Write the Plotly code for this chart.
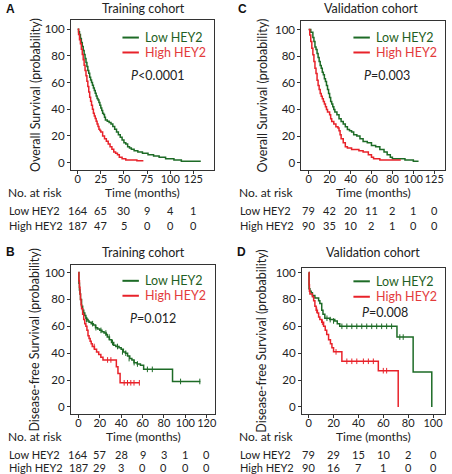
import plotly.graph_objects as go

W, H = 452, 474

# ---------------- data ----------------
# Panel A: Overall survival, training cohort
A_low_t = [0, 1, 2, 3, 4, 5, 6, 7, 8, 9, 10, 11, 12, 13, 14, 15, 16, 17, 18, 19, 20, 21, 22, 23, 24, 25, 26, 27, 28, 29, 30,
           32, 34, 36, 38, 40, 42, 44, 46, 48, 50, 52, 54, 56, 58, 61, 65, 70, 76, 82, 88, 95, 104, 112, 133]
A_low_s = [100, 98, 96, 93, 90, 87, 84, 81, 78, 75, 72, 69, 67, 64, 62, 60, 58, 56, 54, 52, 50, 48, 47, 45, 43, 41, 39, 37, 36, 34, 32,
           31, 30, 29, 27, 25, 23, 21, 19, 17, 15, 14, 12, 11, 10, 9, 8, 7, 6, 5, 4, 3, 2, 1, 1]
A_high_t = [0, 1, 2, 3, 4, 5, 6, 7, 8, 9, 10, 11, 12, 13, 14, 15, 16, 17, 18, 19, 20, 21, 22, 23, 24, 25, 27, 29, 31, 33, 35,
            37, 39, 41, 43, 45, 48, 52, 64, 71]
A_high_s = [100, 96, 92, 89, 85, 81, 77, 73, 69, 65, 61, 57, 53, 49, 46, 43, 40, 37, 35, 33, 31, 29, 27, 25, 24, 23, 20, 18, 16, 14, 12,
            10, 8, 7, 6, 4, 3, 2, 1.5, 1.5]

# Panel C: Overall survival, validation cohort
C_low_t = [0, 2, 4, 5, 6, 7, 8, 9, 10, 11, 12, 13, 14, 15, 16, 17, 18, 19, 20, 21, 22, 23, 24, 25, 27, 29, 31, 33, 35, 37,
           39, 41, 43, 46, 49, 52, 56, 60, 64, 68, 72, 75, 78, 80, 92, 100, 105]
C_low_s = [100, 98, 94, 91, 87, 85, 82, 79, 76, 73, 71, 68, 66, 63, 61, 58, 55, 52, 49, 46, 44, 42, 40, 38, 36, 33, 31, 29, 27, 25,
           24, 23, 21, 20, 18, 16, 15, 13, 12, 10, 8, 6, 4, 3, 2, 1, 1]
C_high_t = [0, 1, 2, 3, 4, 5, 6, 7, 8, 9, 10, 11, 12, 13, 14, 15, 16, 17, 18, 20, 21, 22, 24, 26, 28, 29, 30, 31, 33, 35,
            37, 41, 48, 52, 57, 60, 62, 68, 88]
C_high_s = [100, 96, 91, 86, 81, 76, 71, 67, 62, 58, 55, 52, 50, 48, 46, 44, 42, 40, 38, 36, 33, 31, 29, 27, 26, 24, 21, 18, 15, 12,
            11, 10, 9, 8, 6, 4, 3, 2, 2]

# Panel B: Disease-free survival, training cohort
B_low_t = [0, 0.5, 1, 1.5, 2, 3, 4, 5, 6, 7, 8, 9, 10, 12, 14, 16, 18, 20, 22, 24, 26, 27, 29, 31, 33, 35, 38, 40, 42, 44,
           46, 48, 50, 52, 55, 58, 61, 88, 114]
B_low_s = [100, 92, 87, 84, 80, 75, 72, 70, 68, 66, 65, 64, 63, 62, 61, 59, 58, 57, 56, 55, 54, 52, 50, 48, 46, 45, 44, 43, 41, 40,
           38, 36, 35, 33, 32, 31, 28, 19, 19]
B_high_t = [0, 0.5, 1, 1.5, 2, 2.5, 3, 4, 5, 6, 7, 8, 9, 10, 11, 12, 13, 15, 17, 19, 21, 23, 35.5, 37, 39, 57]
B_high_s = [100, 94, 89, 84, 80, 76, 73, 69, 65, 62, 60, 57, 53, 51, 49, 47, 45, 43, 41, 39, 37, 35, 30, 25, 18, 18]
B_low_cens_t = [7.7, 13.3, 16.4, 21.1, 25.7, 28.8, 31.9, 36.6, 41.2, 44.3, 47.4, 52.1, 55.2, 64.5, 69.1, 95.5, 113.5]
B_low_cens_s = [65, 62, 59, 57, 55, 52, 48, 45, 41, 40, 36, 33, 32, 28, 28, 19, 19]
B_high_cens_t = [14.8, 27.3, 30.4, 42.8, 45.9, 49.0, 52.0, 57.0]
B_high_cens_s = [45, 35, 35, 18, 18, 18, 18, 18]

# Panel D: Disease-free survival, validation cohort
D_low_t = [0, 0.3, 1, 2, 3, 5, 8, 9, 10.5, 11.5, 13, 17, 21, 23, 25, 71, 84, 99]
D_low_s = [100, 88, 86, 85, 83, 81, 79, 77, 72, 69, 66, 65, 64, 62, 60, 52, 26, 0]
D_high_t = [0, 0.3, 0.6, 1, 3, 4, 5, 6, 7, 8, 9, 10.5, 12, 13.3, 14.5, 16, 17.5, 18.7, 20, 26.7, 56, 72]
D_high_s = [100, 91, 86, 84, 82, 79, 75, 72, 70, 67, 65, 63, 60, 57, 54, 50, 47, 44, 41, 34, 27, 0]
D_low_cens_t = [14.7, 17.3, 20.0, 26.7, 30.7, 34.7, 38.7, 42.7, 46.7, 50.7, 54.7, 58.7, 62.7, 66.7, 73.3, 76.0]
D_low_cens_s = [66, 65, 64, 60, 60, 60, 60, 60, 60, 60, 60, 60, 60, 60, 52, 52]
D_high_cens_t = [6.5, 11.0, 22.0, 30.7, 34.7, 38.7, 44.0, 48.0, 52.0, 60.0, 62.7]
D_high_cens_s = [72, 63, 41, 34, 34, 34, 34, 34, 34, 27, 27]

# number-at-risk tables
A_risk_t = [0, 25, 50, 75, 100, 125]
A_risk_low = [164, 65, 30, 9, 4, 1]
A_risk_high = [187, 47, 5, 0, 0, 0]
C_risk_t = [0, 20, 40, 60, 80, 100, 120]
C_risk_low = [79, 42, 20, 11, 2, 1, 0]
C_risk_high = [90, 35, 10, 2, 1, 0, 0]
B_risk_t = [0, 20, 40, 60, 80, 100, 120]
B_risk_low = [164, 57, 28, 9, 3, 1, 0]
B_risk_high = [187, 29, 3, 0, 0, 0, 0]
D_risk_t = [0, 20, 40, 60, 80, 100]
D_risk_low = [79, 29, 15, 10, 2, 0]
D_risk_high = [90, 16, 7, 1, 0, 0]

# tick labels
A_xticks = [0, 25, 50, 75, 100, 125]
A_xtext = ["0", "25", "50", "75", "100", "125"]
C_xticks = [0, 20, 40, 60, 80, 100, 120]
C_xtext = ["0", "20", "40", "60", "80", "100", "125"]
B_xticks = [0, 20, 40, 60, 80, 100, 120]
B_xtext = ["0", "20", "40", "60", "80", "100", "120"]
D_xticks = [0, 20, 40, 60, 80, 100]
D_xtext = ["0", "20", "40", "60", "80", "100"]
Y_ticks = [0, 20, 40, 60, 80, 100]

panel_letters = ["A", "C", "B", "D"]
panel_titles = ["Training cohort", "Validation cohort", "Training cohort", "Validation cohort"]
y_titles = ["Overall Survival (probability)", "Overall Survival (probability)",
            "Disease-free Survival (probability)", "Disease-free Survival (probability)"]
p_texts = ["<i>P</i>&lt;0.0001", "<i>P</i>=0.003", "<i>P</i>=0.012", "<i>P</i>=0.008"]
group_names = ["Low HEY2", "High HEY2"]

# ---------------- style ----------------
GREEN = "#1d6b26"
RED = "#e8222a"
GREEN_TXT = "#1f5f24"
RED_TXT = "#e33b3b"
FONT = "Lato"
AX = "#333333"
TXT = "#222222"


def X(px):
    return px / W


def Y(py):
    return 1 - py / H


# layout per panel (pixel geometry)
panels = [
    dict(ax="", dom_x=(71.3, 214.7), dom_y=(18, 169), xr=[-7.2, 147], yr=[-5.7, 106.9],
         lowt=A_low_t, lows=A_low_s, hight=A_high_t, highs=A_high_s, cens=None,
         rt=A_risk_t, rl=A_risk_low, rh=A_risk_high, xt=A_xticks, xtt=A_xtext,
         letter=(11, 7), title=(144, 7), ytitle_x=35, tm_y=191.7, row_y=(209.3, 224.3),
         leg=(123, 35.7, 50.7), p=(158, 74), nar_x=6),
    dict(ax="2", dom_x=(302.7, 446.7), dom_y=(19, 169), xr=[-7, 130], yr=[-5.7, 106.5],
         lowt=C_low_t, lows=C_low_s, hight=C_high_t, highs=C_high_s, cens=None,
         rt=C_risk_t, rl=C_risk_low, rh=C_risk_high, xt=C_xticks, xtt=C_xtext,
         letter=(244, 7), title=(373, 7), ytitle_x=264, tm_y=191.7, row_y=(209.3, 224.3),
         leg=(355, 35.7, 50.7), p=(389, 74), nar_x=238),
    dict(ax="3", dom_x=(71.3, 216.3), dom_y=(264.3, 414), xr=[-6.9, 128], yr=[-5.4, 105.5],
         lowt=B_low_t, lows=B_low_s, hight=B_high_t, highs=B_high_s,
         cens=(B_low_cens_t, B_low_cens_s, B_high_cens_t, B_high_cens_s),
         rt=B_risk_t, rl=B_risk_low, rh=B_risk_high, xt=B_xticks, xtt=B_xtext,
         letter=(11, 251), title=(144, 251.7), ytitle_x=35, tm_y=436.5, row_y=(454, 467.5),
         leg=(123, 280, 295), p=(154, 318), nar_x=6),
    dict(ax="4", dom_x=(303.3, 446.7), dom_y=(266.7, 414), xr=[-5.4, 109.4], yr=[-5.4, 103.7],
         lowt=D_low_t, lows=D_low_s, hight=D_high_t, highs=D_high_s,
         cens=(D_low_cens_t, D_low_cens_s, D_high_cens_t, D_high_cens_s),
         rt=D_risk_t, rl=D_risk_low, rh=D_risk_high, xt=D_xticks, xtt=D_xtext,
         letter=(243, 251), title=(375, 251.7), ytitle_x=263, tm_y=436.5, row_y=(454, 467.5),
         leg=(355, 280.5, 296), p=(387, 312), nar_x=238),
]

fig = go.Figure()
annotations = []
shapes = []
layout_axes = {}

for i, pn in enumerate(panels):
    xa = "x" + pn["ax"]
    ya = "y" + pn["ax"]
    fig.add_trace(go.Scatter(x=pn["lowt"], y=pn["lows"], mode="lines", xaxis=xa, yaxis=ya,
                             line=dict(shape="hv", color=GREEN, width=1.5), showlegend=False))
    fig.add_trace(go.Scatter(x=pn["hight"], y=pn["highs"], mode="lines", xaxis=xa, yaxis=ya,
                             line=dict(shape="hv", color=RED, width=1.5), showlegend=False))
    if pn["cens"]:
        lt, ls, ht, hs = pn["cens"]
        fig.add_trace(go.Scatter(x=lt, y=ls, mode="markers", xaxis=xa, yaxis=ya, showlegend=False,
                                 marker=dict(symbol="line-ns-open", size=4, color=GREEN,
                                             line=dict(width=1, color=GREEN))))
        fig.add_trace(go.Scatter(x=ht, y=hs, mode="markers", xaxis=xa, yaxis=ya, showlegend=False,
                                 marker=dict(symbol="line-ns-open", size=4, color=RED,
                                             line=dict(width=1, color=RED))))

    common = dict(showline=True, mirror=True, linecolor=AX, linewidth=1, ticks="outside", ticklen=3,
                  tickcolor=AX, showgrid=False, zeroline=False, tickangle=0)
    layout_axes["xaxis" + pn["ax"]] = dict(common, domain=[X(pn["dom_x"][0]), X(pn["dom_x"][1])],
                                           range=pn["xr"], tickvals=pn["xt"], ticktext=pn["xtt"],
                                           anchor=ya, ticklabelstandoff=-4,
                                           tickfont=dict(family=FONT, size=11, color=TXT))
    layout_axes["yaxis" + pn["ax"]] = dict(common, domain=[Y(pn["dom_y"][1]), Y(pn["dom_y"][0])],
                                           range=pn["yr"], tickvals=Y_ticks, anchor=xa,
                                           tickfont=dict(family=FONT, size=11.5, color=TXT))

    cx = (pn["dom_x"][0] + pn["dom_x"][1]) / 2
    cy = (pn["dom_y"][0] + pn["dom_y"][1]) / 2
    base = dict(xref="paper", yref="paper", showarrow=False)
    # letter
    annotations.append(dict(base, x=X(pn["letter"][0]), y=Y(pn["letter"][1]), text="<b>%s</b>" % panel_letters[i],
                            font=dict(family="Liberation Sans", size=12, color="#111"), xanchor="center", yanchor="middle"))
    # title
    annotations.append(dict(base, x=X(pn["title"][0]), y=Y(pn["title"][1]), text=panel_titles[i],
                            font=dict(family=FONT, size=12.5, color=TXT), xanchor="center", yanchor="middle"))
    # y title
    annotations.append(dict(base, x=X(pn["ytitle_x"]), y=Y(cy), text=y_titles[i], textangle=-90,
                            font=dict(family=FONT, size=12.5, color=TXT), xanchor="center", yanchor="middle"))
    # x title
    annotations.append(dict(base, x=X(cx), y=Y(pn["tm_y"]), text="Time (months)",
                            font=dict(family=FONT, size=12, color=TXT), xanchor="center", yanchor="middle"))
    # No. at risk
    annotations.append(dict(base, x=X(pn["nar_x"]), y=Y(pn["tm_y"]), text="No. at risk",
                            font=dict(family=FONT, size=12, color=TXT), xanchor="left", yanchor="middle"))
    for j, (nm, vals) in enumerate([(group_names[0], pn["rl"]), (group_names[1], pn["rh"])]):
        ry = pn["row_y"][j]
        annotations.append(dict(base, x=X(pn["nar_x"] + 1), y=Y(ry), text=nm,
                                font=dict(family=FONT, size=11, color=TXT), xanchor="left", yanchor="middle"))
        for t, v in zip(pn["rt"], vals):
            annotations.append(dict(xref=xa, yref="paper", showarrow=False, x=t, y=Y(ry), text=str(v),
                                    font=dict(family=FONT, size=11, color=TXT),
                                    xanchor="center", yanchor="middle"))
    # legend keys
    lx, gy, ry = pn["leg"]
    shapes.append(dict(type="line", xref="paper", yref="paper", x0=X(lx), x1=X(lx + 16.5), y0=Y(gy), y1=Y(gy),
                       line=dict(color=GREEN, width=2)))
    shapes.append(dict(type="line", xref="paper", yref="paper", x0=X(lx), x1=X(lx + 16.5), y0=Y(ry), y1=Y(ry),
                       line=dict(color=RED, width=2)))
    annotations.append(dict(base, x=X(lx + 20.5), y=Y(gy), text=group_names[0],
                            font=dict(family=FONT, size=12.5, color=GREEN_TXT), xanchor="left", yanchor="middle"))
    annotations.append(dict(base, x=X(lx + 20.5), y=Y(ry), text=group_names[1],
                            font=dict(family=FONT, size=12.5, color=RED_TXT), xanchor="left", yanchor="middle"))
    # p value
    annotations.append(dict(base, x=X(pn["p"][0]), y=Y(pn["p"][1]), text=p_texts[i],
                            font=dict(family=FONT, size=12.5, color=TXT), xanchor="center", yanchor="middle"))

fig.update_layout(
    width=W, height=H, margin=dict(l=0, r=0, t=0, b=0),
    paper_bgcolor="white", plot_bgcolor="white",
    font=dict(family=FONT, size=12, color=TXT),
    annotations=annotations, shapes=shapes, showlegend=False,
    **layout_axes,
)

fig.write_html("out.html")
